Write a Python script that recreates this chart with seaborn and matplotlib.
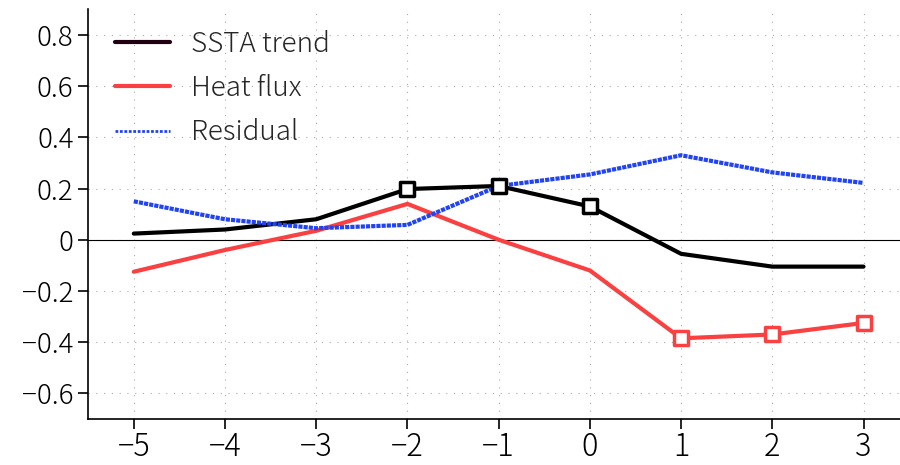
import numpy as np
import pandas as pd
import matplotlib
matplotlib.use("Agg")
import matplotlib.pyplot as plt
import seaborn as sns

lags = [-5, -4, -3, -2, -1, 0, 1, 2, 3]
ssta = [0.024, 0.04, 0.08, 0.198, 0.21, 0.13, -0.055, -0.105, -0.105]
heat = [-0.125, -0.04, 0.035, 0.14, 0.0, -0.12, -0.385, -0.37, -0.325]
resid = [0.15, 0.08, 0.045, 0.058, 0.21, 0.255, 0.33, 0.263, 0.222]
ssta_sig = [-2, -1, 0]
heat_sig = [1, 2, 3]
yticks = [-0.6, -0.4, -0.2, 0, 0.2, 0.4, 0.6, 0.8]
ytick_labels = ["\u22120.6", "\u22120.4", "\u22120.2", "0", "0.2", "0.4", "0.6", "0.8"]
xtick_labels = ["\u22125", "\u22124", "\u22123", "\u22122", "\u22121", "0", "1", "2", "3"]

sns.set_theme(style="ticks")
plt.rcParams["font.family"] = ["Noto Sans CJK JP", "DejaVu Sans"]

fig = plt.figure(figsize=(9, 4.65), dpi=100)
ax = fig.add_axes([0.098, 0.099, 0.902, 0.881])

df = pd.DataFrame({"lag": lags, "ssta": ssta, "heat": heat, "resid": resid})

ax.axhline(0, color="black", lw=0.8, zorder=1)
sns.lineplot(data=df, x="lag", y="ssta", ax=ax, color="black", lw=3, label="SSTA trend", zorder=3)
sns.lineplot(data=df, x="lag", y="heat", ax=ax, color="#fa4040", lw=3, label="Heat flux", zorder=3)
sns.lineplot(data=df, x="lag", y="resid", ax=ax, color="#2244f0", lw=3, ls=(0, (1.0, 0.25)),
             label="Residual", zorder=4)

s = df[df.lag.isin(ssta_sig)]
h = df[df.lag.isin(heat_sig)]
sns.scatterplot(data=s, x="lag", y="ssta", ax=ax, marker="s", s=110, facecolor="white",
                edgecolor="black", linewidth=2.5, zorder=5, legend=False)
sns.scatterplot(data=h, x="lag", y="heat", ax=ax, marker="s", s=110, facecolor="white",
                edgecolor="#fa4040", linewidth=2.5, zorder=5, legend=False)

ax.set_xlim(-5.5, 3.4)
ax.set_ylim(-0.7, 0.9)
ax.set_xticks(lags)
ax.set_xticklabels(xtick_labels, fontsize=22, fontweight="light")
ax.set_yticks(yticks)
ax.set_yticklabels(ytick_labels, fontsize=20, fontweight="light")
ax.set_xlabel("")
ax.set_ylabel("")
ax.grid(True, color="#aaaaaa", lw=0.8, ls=(0, (1, 6)))
for sp in ["top", "right"]:
    ax.spines[sp].set_visible(False)
for sp in ["left", "bottom"]:
    ax.spines[sp].set_linewidth(1.2)
    ax.spines[sp].set_color("black")
ax.tick_params(direction="out", length=7, width=1.2, colors="black")
ax.tick_params(axis="x", pad=2)

leg = ax.legend(loc="upper left", frameon=False, handlelength=2.0,
                bbox_to_anchor=(0.012, 0.99), prop={"size": 20, "weight": "light"},
                borderaxespad=0.2, labelspacing=0.58, handletextpad=0.75)
leg.get_lines()[0].set_color("#200010")
leg.get_lines()[2].set_linewidth(2)
leg.get_lines()[2].set_linestyle((0, (1, 0.6)))

fig.savefig("out.png", dpi=100)
